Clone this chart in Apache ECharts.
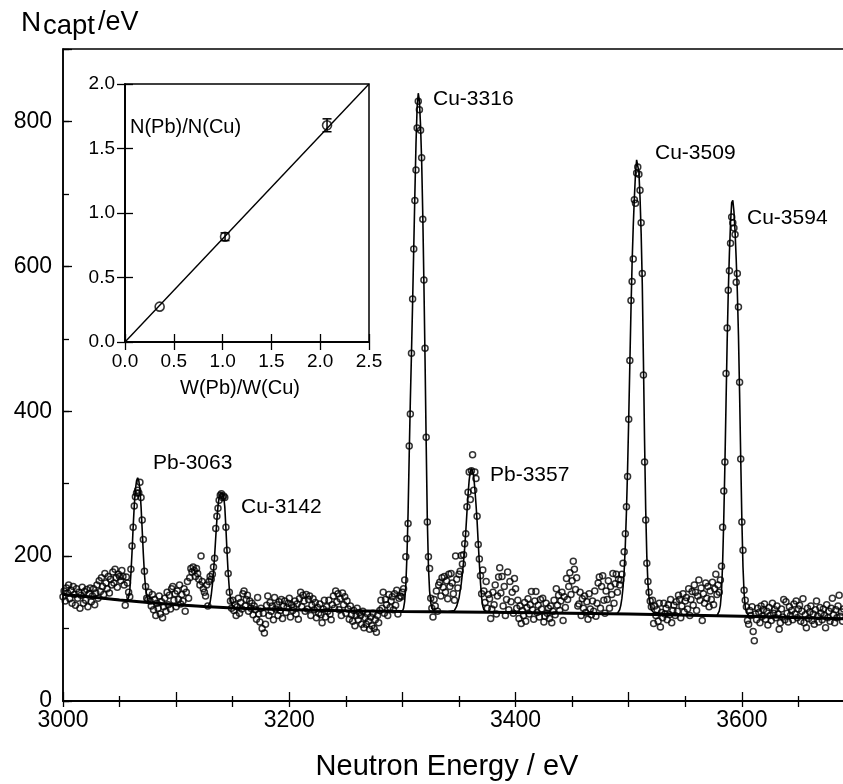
<!DOCTYPE html>
<html><head><meta charset="utf-8">
<script src="https://cdn.jsdelivr.net/npm/echarts@6/dist/echarts.min.js"></script>
<style>html,body{margin:0;padding:0;background:#fff}#c{width:843px;height:784px}</style>
</head><body><div id="c"></div>
<script>
// ---- data ----
const E_START = 3000;   // eV of first sample
const E_STEP = 1;       // eV between samples
const counts = [
/*3000*/144,152,138,156,149,160,141,153,135,158,
/*3010*/147,132,155,142,150,128,146,157,135,151,
/*3020*/139,154,130,148,156,137,145,155,133,149,
/*3030*/160,142,166,151,170,158,147,176,163,155,
/*3040*/172,149,168,160,178,163,182,170,157,175,
/*3050*/172,166,180,172,160,132,171,163,150,144,
/*3060*/182,214,240,269,282,287,291,287,302,281,
/*3070*/250,223,179,158,142,140,150,138,131,147,
/*3080*/126,140,118,135,128,145,120,137,115,130,
/*3090*/142,124,150,133,146,127,155,158,139,148,
/*3100*/130,152,140,160,134,147,138,155,124,150,
/*3110*/165,142,170,183,178,185,180,172,183,176,
/*3120*/168,160,200,165,155,150,145,160,131,165,
/*3130*/172,168,175,185,197,238,255,266,277,284,
/*3140*/286,281,283,281,240,208,176,150,138,128,
/*3150*/139,125,133,118,130,142,121,136,127,148,
/*3160*/152,131,140,146,124,138,128,135,119,131,
/*3170*/126,113,143,120,109,128,100,121,94,106,
/*3180*/132,145,118,136,124,131,112,143,127,133,
/*3190*/118,137,125,140,114,131,138,122,129,135,
/*3200*/142,116,133,125,129,138,120,134,113,141,
/*3210*/150,130,146,138,124,147,127,140,145,118,
/*3220*/132,141,126,136,115,129,121,134,119,108,
/*3230*/127,139,116,130,124,139,120,112,133,145,
/*3240*/128,152,137,148,126,141,118,149,133,144,
/*3250*/121,138,127,113,131,119,110,125,104,118,
/*3260*/128,112,122,118,106,124,101,115,106,120,
/*3270*/110,99,116,104,121,100,112,95,118,108,
/*3280*/125,139,128,150,121,140,133,118,147,129,
/*3290*/138,144,126,148,132,153,120,142,145,144,
/*3300*/150,155,167,199,224,245,352,396,480,555,
/*3310*/624,691,733,791,828,816,788,750,665,581,
/*3320*/487,364,247,199,183,142,128,116,140,131,
/*3330*/152,124,160,164,145,170,157,172,150,166,
/*3340*/141,175,158,176,163,148,139,200,168,156,
/*3350*/175,179,201,189,202,217,231,268,288,316,
/*3360*/278,318,340,291,316,307,255,216,196,173,
/*3370*/148,181,152,136,165,128,147,141,114,127,
/*3380*/150,133,160,120,145,171,184,149,172,131,
/*3390*/158,118,140,178,126,165,137,150,121,169,
/*3400*/155,128,139,114,131,107,125,118,136,110,
/*3410*/129,141,120,133,151,126,113,138,151,122,
/*3420*/132,116,140,127,142,109,117,135,121,128,
/*3430*/114,131,108,124,139,119,155,132,146,125,
/*3440*/138,150,111,144,129,169,140,158,177,147,
/*3450*/166,193,182,154,170,131,134,150,118,141,
/*3460*/128,145,122,137,113,148,127,119,138,124,
/*3470*/152,117,135,163,171,128,158,173,139,121,
/*3480*/152,140,166,128,158,147,176,135,162,175,
/*3490*/150,168,160,167,175,190,206,231,268,310,
/*3500*/389,470,553,579,610,692,687,729,737,727,
/*3510*/705,660,590,450,330,250,190,165,150,138,
/*3520*/130,139,107,131,118,126,110,135,102,122,
/*3530*/115,135,120,128,112,133,119,140,108,125,
/*3540*/132,118,137,124,146,140,115,131,148,123,
/*3550*/138,143,127,155,118,140,151,132,160,150,
/*3560*/125,145,167,139,156,111,148,135,163,142,
/*3570*/158,130,152,140,164,133,155,175,147,160,
/*3580*/150,167,186,240,290,330,452,515,567,594,
/*3590*/632,668,660,653,644,578,590,544,440,334,
/*3600*/247,208,153,139,130,111,106,125,118,130,
/*3610*/96,83,120,112,128,122,108,131,117,126,
/*3620*/134,113,124,105,129,118,111,135,121,126,
/*3630*/115,131,120,99,108,127,116,140,112,137,
/*3640*/121,109,130,118,125,112,134,120,138,115,
/*3650*/127,132,110,124,141,108,119,101,128,114,
/*3660*/123,131,111,120,106,126,138,117,109,129,
/*3670*/121,112,127,118,101,133,115,124,110,128,
/*3680*/142,119,108,126,115,131,146,117,123,110,
/*3690*/127
];

// fitted curve (peaks on top of the smooth background), [E, N]
const fitCurve = [
[3000,147],[3020,144],[3040,141],
[3055,139],[3057,140],[3058,143],[3059,152],[3060,175],[3061,205],[3062,240],[3063,270],[3064,292],[3065,304],[3066,308],[3067,304],[3068,292],[3069,268],[3070,236],[3071,203],[3072,175],[3073,156],[3074,145],[3075,139],[3077,136],
[3090,134],[3110,132],[3120,131],[3128,130],
[3130,136],[3131,146],[3132,160],[3133,178],[3134,200],[3135,226],[3136,250],[3137,269],[3138,281],[3139,287],[3140,288],[3141,287],[3142,282],[3143,268],[3144,238],[3145,205],[3146,176],[3147,155],[3148,141],[3149,134],[3151,129],
[3175,127],[3200,126],[3225,125],[3250,124.5],[3275,124],[3298,123.5],
[3300,124],[3301,128],[3302,138],[3303,160],[3304,200],[3305,260],[3306,340],[3307,415],[3308,480],[3309,550],[3310,625],[3311,700],[3312,770],[3313,820],[3314,839],[3315,828],[3316,795],[3317,745],[3318,670],[3319,575],[3320,470],[3321,355],[3322,250],[3323,185],[3324,152],[3325,136],[3326,128],[3328,124],
[3340,123.3],
[3346,125],[3348,131],[3350,142],[3352,162],[3353,176],[3354,192],[3355,211],[3356,234],[3357,260],[3358,285],[3359,305],[3360,317],[3361,321],[3362,318],[3363,310],[3364,293],[3365,272],[3366,248],[3367,218],[3368,190],[3369,163],[3370,143],[3371,131],[3372,126],[3374,123],
[3400,122],[3450,121],[3488,120.5],
[3490,121],[3492,126],[3493,132],[3494,142],[3495,157],[3496,180],[3497,215],[3498,262],[3499,320],[3500,390],[3501,465],[3502,540],[3503,605],[3504,655],[3505,695],[3506,728],[3507,747],[3508,748],[3509,730],[3510,695],[3511,645],[3512,575],[3513,470],[3514,360],[3515,265],[3516,200],[3517,162],[3518,142],[3519,132],[3520,126],[3522,122],
[3550,118.5],[3576,117.5],
[3578,118],[3580,124],[3581,132],[3582,150],[3583,190],[3584,250],[3585,325],[3586,410],[3587,495],[3588,565],[3589,618],[3590,660],[3591,688],[3592,691],[3593,676],[3594,648],[3595,610],[3596,565],[3597,505],[3598,425],[3599,335],[3600,250],[3601,185],[3602,148],[3603,130],[3604,122],[3606,118],
[3650,115.5],[3700,113]
];

// smooth background under the peaks, [E, N]
const backgroundFit = [
[3000,147],[3025,143.5],[3050,139.5],[3075,136],[3100,133],[3125,130.5],[3150,128.5],[3175,127],[3200,126],
[3250,124.5],[3300,123.5],[3400,122],[3500,120],[3600,117],[3700,113]
];

const xLabelValues = [3000,3200,3400,3600];
const yLabelValues = [0,200,400,600,800];

// inset
const insetW = [0.355, 1.025, 2.07];     // W(Pb)/W(Cu)
const insetN = [0.274, 0.816, 1.68];     // N(Pb)/N(Cu)
const insetErr = [0, 0.03, 0.05];
const insetLine = [[0,0],[2.5,2.0]];

// ---- chart ----
const FONT = '"Liberation Sans", Arial, Helvetica, sans-serif';
const chart = echarts.init(document.getElementById('c'), null, {renderer:'canvas'});

const mainPoints = counts.map((n,i)=>[E_START + i*E_STEP, n]);
const insetPts = insetW.map((w,i)=>[w, insetN[i]]);
const insetErrData = insetW.map((w,i)=>[w, insetN[i]-insetErr[i], insetN[i]+insetErr[i]]);

function txt(x, y, text, size, align){
  return {type:'text', x:x, y:y, z:50,
    style:{text:text, fill:'#000', font: size+'px '+FONT, align: align||'left', verticalAlign:'middle'}};
}

const axisLineStyle = {lineStyle:{color:'#000', width:1.5}};

chart.setOption({
  animation:false,
  backgroundColor:'#fff',
  grid:[
    {left:63, top:49, width:792, height:652, show:true, borderColor:'#000', borderWidth:1.5,
      backgroundColor:'transparent', containLabel:false, outerBoundsMode:'none'},
    {left:125, top:84, width:244, height:258, show:true, borderColor:'#000', borderWidth:1.5,
      backgroundColor:'#fff', containLabel:false, outerBoundsMode:'none'}
  ],
  xAxis:[
    {gridIndex:0, type:'value', min:3000, max:3700, interval:100, position:'bottom',
      axisLine:axisLineStyle,
      axisTick:{inside:true, length:9, lineStyle:{color:'#000', width:1.3}},
      minorTick:{show:true, splitNumber:2, length:5, lineStyle:{color:'#000', width:1.3}},
      splitLine:{show:false},
      axisLabel:{margin:8, color:'#000', fontSize:23, fontFamily:FONT,
        formatter:v=> xLabelValues.indexOf(v)>=0 ? String(v) : ''}},
    {gridIndex:0, type:'value', min:3000, max:3700, interval:50, position:'top',
      axisLine:axisLineStyle,
      axisTick:{inside:true, length:6, lineStyle:{color:'#000', width:1.3}},
      splitLine:{show:false}, axisLabel:{show:false}},
    {gridIndex:1, type:'value', min:0, max:2.5, interval:0.5, position:'bottom',
      axisLine:axisLineStyle,
      axisTick:{inside:true, length:8, lineStyle:{color:'#000', width:1.3}},
      splitLine:{show:false},
      axisLabel:{margin:10, color:'#000', fontSize:19, fontFamily:FONT, formatter:v=>v.toFixed(1)}},
    {gridIndex:1, type:'value', min:0, max:2.5, interval:0.5, position:'top',
      axisLine:axisLineStyle,
      axisTick:{inside:true, length:8, lineStyle:{color:'#000', width:1.3}},
      splitLine:{show:false}, axisLabel:{show:false}}
  ],
  yAxis:[
    {gridIndex:0, type:'value', min:0, max:900, interval:200, position:'left',
      axisLine:axisLineStyle,
      axisTick:{inside:true, length:9, lineStyle:{color:'#000', width:1.3}},
      splitLine:{show:false},
      axisLabel:{margin:11, color:'#000', fontSize:23, fontFamily:FONT,
        formatter:v=> yLabelValues.indexOf(v)>=0 ? String(v) : ''}},
    {gridIndex:0, type:'value', min:0, max:900, interval:100, position:'left',
      axisLine:{show:false},
      axisTick:{inside:true, length:6, lineStyle:{color:'#000', width:1.3}},
      splitLine:{show:false}, axisLabel:{show:false}},
    {gridIndex:1, type:'value', min:0, max:2.0, interval:0.5, position:'left',
      axisLine:axisLineStyle,
      axisTick:{inside:true, length:8, lineStyle:{color:'#000', width:1.3}},
      splitLine:{show:false},
      axisLabel:{margin:10, color:'#000', fontSize:19, fontFamily:FONT, formatter:v=>v.toFixed(1)}},
    {gridIndex:1, type:'value', min:0, max:2.0, interval:0.5, position:'right',
      axisLine:axisLineStyle,
      axisTick:{inside:true, length:8, lineStyle:{color:'#000', width:1.3}},
      splitLine:{show:false}, axisLabel:{show:false}}
  ],
  series:[
    {type:'scatter', xAxisIndex:0, yAxisIndex:0, data:mainPoints, symbol:'circle', symbolSize:6,
      itemStyle:{color:'rgba(255,255,255,0)', borderColor:'#000', borderWidth:1.5}, z:2, silent:true},
    {type:'line', xAxisIndex:0, yAxisIndex:0, data:backgroundFit, showSymbol:false, smooth:false,
      lineStyle:{color:'#000', width:3}, z:3, silent:true},
    {type:'line', xAxisIndex:0, yAxisIndex:0, data:fitCurve, showSymbol:false, smooth:false,
      lineStyle:{color:'#000', width:1.6}, z:4, silent:true},
    {type:'line', xAxisIndex:2, yAxisIndex:2, data:insetLine, showSymbol:false,
      lineStyle:{color:'#000', width:1.4}, z:5, silent:true},
    {type:'custom', xAxisIndex:2, yAxisIndex:2, data:insetErrData, z:6, silent:true,
      renderItem:function(params, api){
        const x = api.value(0), lo = api.value(1), hi = api.value(2);
        if (hi - lo <= 0) return null;
        const p1 = api.coord([x, lo]), p2 = api.coord([x, hi]);
        const w = 4.5, st = {stroke:'#000', lineWidth:1.5};
        return {type:'group', children:[
          {type:'line', shape:{x1:p1[0], y1:p1[1], x2:p2[0], y2:p2[1]}, style:st},
          {type:'line', shape:{x1:p1[0]-w, y1:p1[1], x2:p1[0]+w, y2:p1[1]}, style:st},
          {type:'line', shape:{x1:p2[0]-w, y1:p2[1], x2:p2[0]+w, y2:p2[1]}, style:st}
        ]};
      }},
    {type:'scatter', xAxisIndex:2, yAxisIndex:2, data:insetPts, symbol:'circle', symbolSize:9,
      itemStyle:{color:'rgba(255,255,255,0)', borderColor:'#000', borderWidth:1.6}, z:7, silent:true}
  ],
  graphic:[
    txt(21, 23.5, 'N', 28),
    txt(43, 26.5, 'capt', 27.5),
    txt(98, 22.5, '/eV', 27),
    txt(447, 767, 'Neutron Energy / eV', 29, 'center'),
    txt(153, 463, 'Pb-3063', 21),
    txt(241, 507.5, 'Cu-3142', 21),
    txt(433, 99, 'Cu-3316', 21),
    txt(490, 475, 'Pb-3357', 21),
    txt(655, 153.5, 'Cu-3509', 21),
    txt(747, 218, 'Cu-3594', 21),
    txt(130, 127, 'N(Pb)/N(Cu)', 20),
    txt(240, 388, 'W(Pb)/W(Cu)', 20, 'center')
  ]
});
</script>
</body></html>
